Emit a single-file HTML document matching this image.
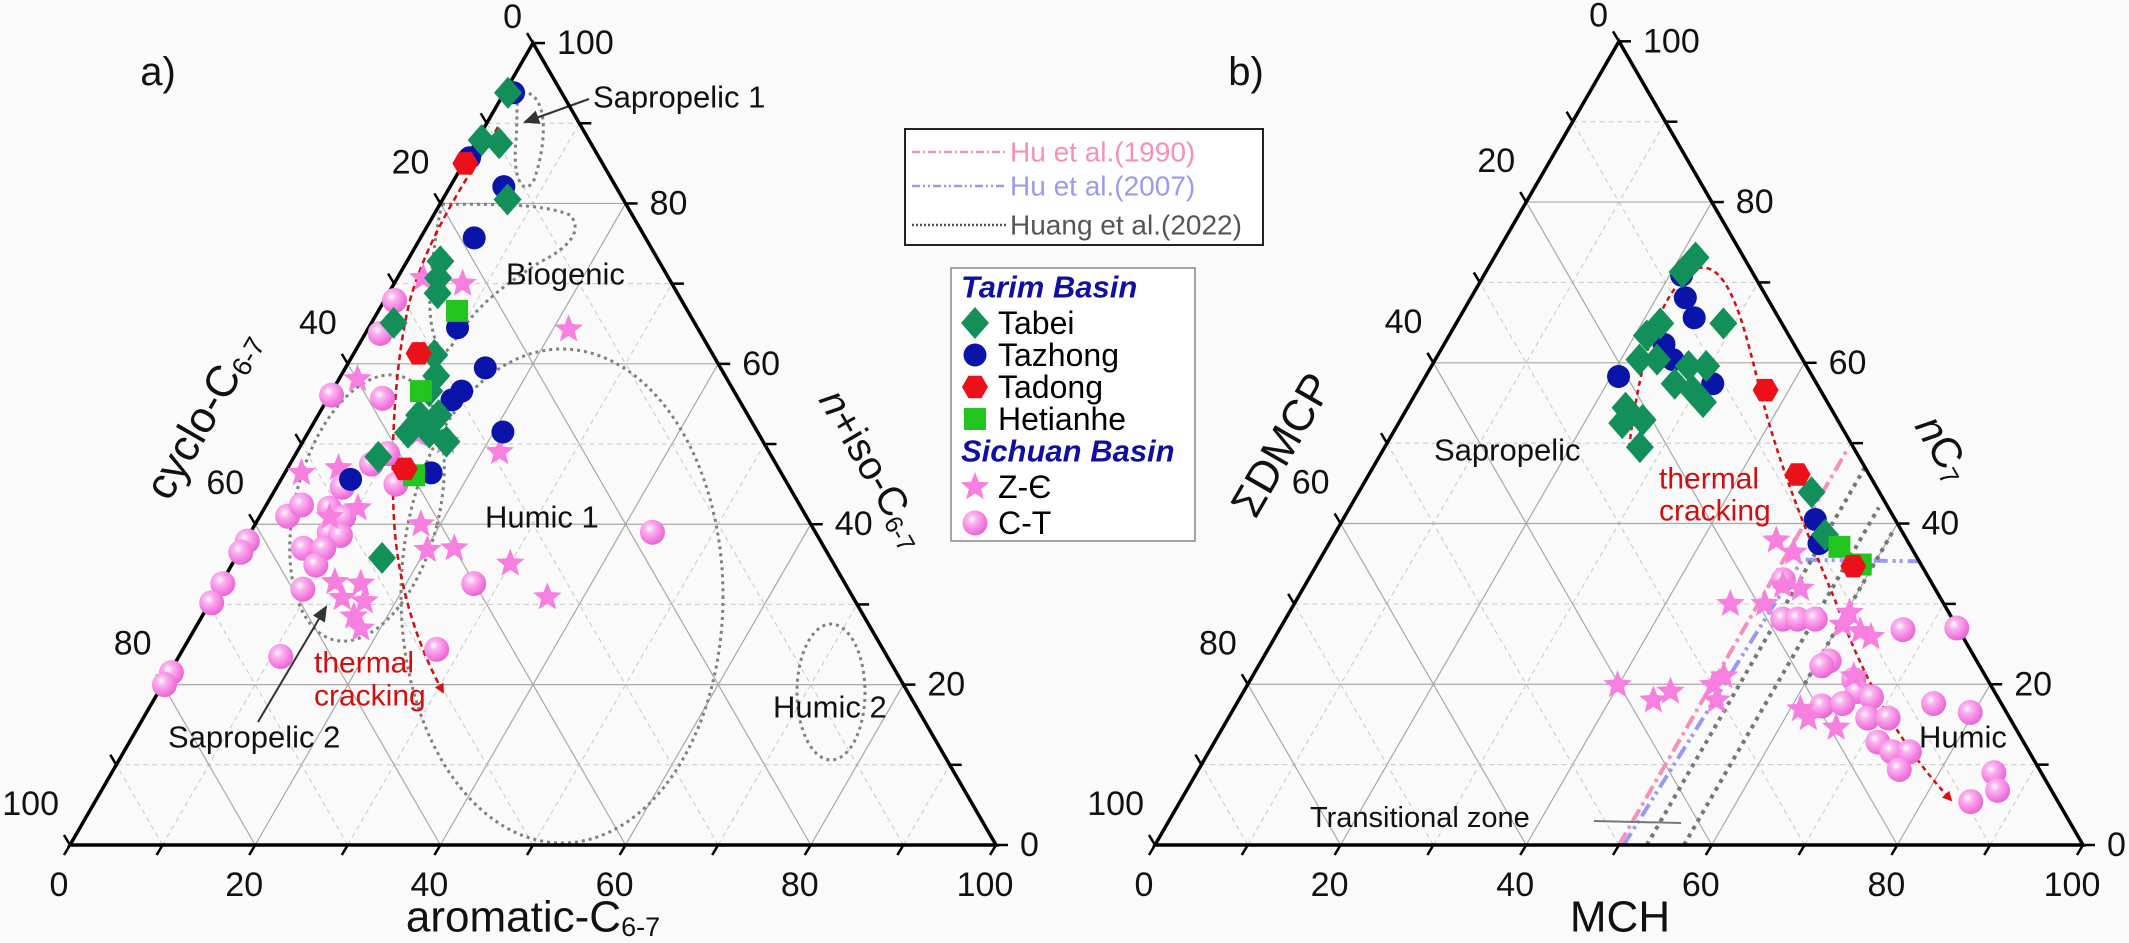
<!DOCTYPE html>
<html><head><meta charset="utf-8"><title>Ternary diagrams</title>
<style>
html,body{margin:0;padding:0;background:#fafafa;}
svg{display:block;font-family:"Liberation Sans",Arial,sans-serif;}
</style></head>
<body>
<svg id="chart" width="2129" height="943" viewBox="0 0 2129 943" xmlns="http://www.w3.org/2000/svg">
<defs>
<radialGradient id="sph" cx="0.38" cy="0.35" r="0.7">
<stop offset="0" stop-color="#ffffff"/><stop offset="0.25" stop-color="#fbb6f0"/><stop offset="0.7" stop-color="#f47de0"/><stop offset="1" stop-color="#e066cc"/>
</radialGradient>
<marker id="arrRed" markerWidth="10" markerHeight="10" refX="8" refY="5" orient="auto" markerUnits="userSpaceOnUse"><path d="M0,0 L10,5 L0,10 Z" fill="#e01010"/></marker>
<marker id="arrBlk" markerWidth="16" markerHeight="16" refX="14" refY="8" orient="auto" markerUnits="userSpaceOnUse"><path d="M0,1 L16,8 L0,15 Z" fill="#333"/></marker>
</defs>
<rect x="0" y="0" width="2129" height="943" fill="#fafafa"/>
<g id="gridA"></g>
<g id="gridB"></g>

<!-- panel a annotations -->
<g fill="none" stroke="#808080" stroke-width="3" stroke-dasharray="3,4">
<path d="M522,92 C548,92 548,140 534,180 C524,198 512,180 516,140 C518,110 515,95 522,92 Z"/>
<path d="M442,204 C480,205 540,202 570,215 C585,232 565,250 540,262 C505,285 475,305 452,345 C440,365 428,330 430,295 C432,260 436,230 442,204 Z"/>
<ellipse cx="367" cy="508" rx="72" ry="136" transform="rotate(14 367 508)"/>
<ellipse cx="562" cy="596" rx="161" ry="247"/>
<ellipse cx="831" cy="692" rx="34" ry="68"/>
</g>
<path d="M498,127 C470,175 430,230 410,300 C395,360 390,450 394,520 C398,590 420,650 443,692" fill="none" stroke="#d01010" stroke-width="2.5" stroke-dasharray="6,4" marker-end="url(#arrRed)"/>
<line x1="589" y1="99" x2="525" y2="122" stroke="#333" stroke-width="2" marker-end="url(#arrBlk)"/>
<line x1="258" y1="722" x2="326" y2="607" stroke="#333" stroke-width="2" marker-end="url(#arrBlk)"/>

<!-- panel b annotation lines -->
<g fill="none">
<path id="pinkLine" stroke="#f590b8" stroke-width="4" stroke-dasharray="14,5,3,5"/>
<path id="blueLine" stroke="#9a9af0" stroke-width="4" stroke-dasharray="14,5,3,4,3,5"/>
<path id="grayLine1" stroke="#777" stroke-width="4" stroke-dasharray="4,5"/>
<path id="grayLine2" stroke="#777" stroke-width="4" stroke-dasharray="4,5"/>
<path id="grayLine3" stroke="#777" stroke-width="4" stroke-dasharray="4,5"/>
</g>
<line x1="1594" y1="821" x2="1681" y2="823" stroke="#777" stroke-width="2"/>
<path d="M1629,448 C1640,360 1660,285 1699,268 C1730,262 1745,330 1760,390 C1780,470 1810,540 1835,600 C1860,670 1895,740 1951,800" fill="none" stroke="#d01010" stroke-width="2.5" stroke-dasharray="5,4" marker-end="url(#arrRed)"/>

<g id="axesA"></g>
<g id="axesB"></g>
<g id="pointsA"></g>
<g id="pointsB"></g>

<!-- text labels -->
<g font-size="32" fill="#111">
<text x="158" y="72" font-size="40" text-anchor="middle" dominant-baseline="central">a)</text>
<text x="1246" y="72" font-size="40" text-anchor="middle" dominant-baseline="central">b)</text>
<text x="593" y="97" dominant-baseline="central" font-size="31">Sapropelic 1</text>
<text x="506" y="274" dominant-baseline="central" font-size="31">Biogenic</text>
<text x="485" y="517" dominant-baseline="central" font-size="31">Humic 1</text>
<text x="773" y="707" dominant-baseline="central" font-size="31">Humic 2</text>
<text x="168" y="737" dominant-baseline="central" font-size="31">Sapropelic 2</text>
<text x="314" y="663" dominant-baseline="central" font-size="30" fill="#d01010">thermal</text>
<text x="314" y="696" dominant-baseline="central" font-size="30" fill="#d01010">cracking</text>
<text x="1434" y="450" dominant-baseline="central" font-size="31">Sapropelic</text>
<text x="1659" y="479" dominant-baseline="central" font-size="30" fill="#d01010">thermal</text>
<text x="1659" y="511" dominant-baseline="central" font-size="30" fill="#d01010">cracking</text>
<text x="1919" y="737" dominant-baseline="central" font-size="31">Humic</text>
<text x="1310" y="818" dominant-baseline="central" font-size="29">Transitional zone</text>

<text x="533" y="917" text-anchor="middle" dominant-baseline="central" font-size="44">aromatic-C<tspan font-size="27" dy="10">6-7</tspan></text>
<text transform="translate(203,415) rotate(-60)" text-anchor="middle" dominant-baseline="central" font-size="44">cyclo-C<tspan font-size="27" dy="10">6-7</tspan></text>
<text transform="translate(873,469) rotate(60)" text-anchor="middle" dominant-baseline="central" font-size="40"><tspan font-style="italic">n</tspan>+iso-C<tspan font-size="25" dy="10">6-7</tspan></text>
<text x="1620" y="917" text-anchor="middle" dominant-baseline="central" font-size="44">MCH</text>
<text transform="translate(1282,445) rotate(-60)" text-anchor="middle" dominant-baseline="central" font-size="44">ΣDMCP</text>
<text transform="translate(1944,448) rotate(60)" text-anchor="middle" dominant-baseline="central" font-size="42"><tspan font-style="italic">n</tspan>C<tspan font-size="26" dy="10">7</tspan></text>
</g>

<!-- legend 1 -->
<g>
<rect x="905" y="129" width="358" height="116" fill="#fff" stroke="#222" stroke-width="2"/>
<line x1="912" y1="152" x2="1007" y2="152" stroke="#f590b8" stroke-width="2.5" stroke-dasharray="8,3,2,3"/>
<text x="1010" y="152" dominant-baseline="central" font-size="28" fill="#f590b8">Hu et al.(1990)</text>
<line x1="912" y1="186" x2="1007" y2="186" stroke="#9a9af0" stroke-width="2.5" stroke-dasharray="8,3,2,3,2,3"/>
<text x="1010" y="186" dominant-baseline="central" font-size="28" fill="#9a9af0">Hu et al.(2007)</text>
<line x1="912" y1="225" x2="1007" y2="225" stroke="#555" stroke-width="2.5" stroke-dasharray="2,2"/>
<text x="1010" y="225" dominant-baseline="central" font-size="28" fill="#555">Huang et al.(2022)</text>
</g>
<!-- legend 2 -->
<g id="legend2">
<rect x="951" y="268" width="244" height="273" fill="#fff" stroke="#888" stroke-width="1.5"/>
<text x="961" y="287" dominant-baseline="central" font-size="31" font-weight="bold" font-style="italic" fill="#1010a0">Tarim Basin</text>
<text x="998" y="323" dominant-baseline="central" font-size="32">Tabei</text>
<text x="998" y="355" dominant-baseline="central" font-size="32">Tazhong</text>
<text x="998" y="387" dominant-baseline="central" font-size="32">Tadong</text>
<text x="998" y="419" dominant-baseline="central" font-size="32">Hetianhe</text>
<text x="961" y="451" dominant-baseline="central" font-size="31" font-weight="bold" font-style="italic" fill="#1010a0">Sichuan Basin</text>
<text x="998" y="487" dominant-baseline="central" font-size="32">Z-Є</text>
<text x="998" y="523" dominant-baseline="central" font-size="32">C-T</text>
</g>
</svg>
<script>
// ---- Panel a data: [aromatic, n+iso] (cyclo = 100 - sum) ----
const aTabei = [[0.4,93.8],[0.5,87.9],[2.6,87.5],[7.0,80.5],[3.6,72.8],[4.4,70.7],[5.3,68.8],[2.4,65.1],[8.8,61.1],[10.3,58.5],[10.5,56.6],[10.9,53.6],[13.0,53.6],[10.8,51.4],[13.1,51.4],[15.5,50.3],[9.1,48.4],[15.8,35.8]];
const aTazhong = [[1.0,93.8],[0.3,85.7],[5.8,82.1],[5.8,75.7],[9.6,64.5],[15.1,59.5],[14.0,56.6],[13.5,55.5],[21.0,51.5],[7.5,45.6],[15.8,46.4]];
const aTadong = [[0.2,85.0],[7.0,61.3],[12.7,46.9]];
const aHetianhe = [[8.5,66.6],[9.6,56.6],[14.1,46.1]];
const aZE = [[2.8,70.7],[7.4,70.0],[21.7,64.3],[2.0,58.1],[11.9,51.2],[15.4,50.3],[21.9,49.0],[1.8,46.4],[5.5,47.0],[10.1,42.0],[7.6,40.9],[17.9,40.0],[20.2,36.8],[23.0,37.0],[30.0,35.1],[36.1,30.9],[12.2,32.8],[15.1,32.6],[14.0,30.8],[16.6,30.4],[16.4,28.5],[17.9,27.0]];
const aCT = [[1.1,67.9],[1.6,63.8],[0.2,56.1],[5.9,55.7],[9.9,48.8],[8.8,47.5],[12.7,45.0],[7.1,44.6],[3.0,41.0],[3.8,42.4],[7.0,42.0],[9.1,40.9],[8.5,39.0],[9.9,38.6],[0.2,37.9],[0.2,36.5],[6.7,37.0],[8.9,37.0],[9.1,34.9],[9.2,31.9],[0.2,32.6],[0.2,30.2],[27.3,32.6],[43.4,39.0],[11.0,23.5],[27.4,24.4],[0.2,21.5],[0.2,20.0]];
// ---- Panel b data: [MCH, nC7] (ΣDMCP = 100 - sum) ----
const bTabei = [[21.7,73.1],[21.2,71.3],[28.8,64.9],[22.0,64.9],[21.3,63.4],[23.9,60.4],[22.0,60.4],[27.7,59.6],[29.6,59.6],[27.3,57.4],[29.6,56.6],[31.5,55.1],[23.5,54.4],[26.1,52.9],[24.1,52.5],[27.5,49.5],[48.8,43.9],[52.9,38.6]];
const bTazhong = [[21.3,70.9],[23.1,68.1],[25.3,65.6],[23.7,62.3],[25.6,60.4],[20.8,58.3],[31.4,57.4],[50.9,40.5],[52.8,37.5]];
const bTadong = [[37.5,56.6],[46.2,46.1],[57.9,34.7]];
const bHetianhe = [[55.2,37.1],[58.6,34.9]];
const bZE = [[48.0,37.9],[50.6,36.4],[53.6,31.9],[51.5,32.3],[47.0,30.0],[50.7,30.0],[60.4,28.9],[62.7,26.6],[64.2,25.9],[60.4,27.4],[39.9,19.9],[44.7,18.0],[46.0,19.1],[50.2,19.9],[50.8,21.0],[51.5,18.0],[61.1,16.9],[62.5,15.8],[66.1,14.6],[64.8,21.0]];
const bCT = [[51.2,33.0],[53.6,28.1],[55.2,28.1],[57.1,28.1],[67.2,26.8],[72.9,27.0],[61.2,22.9],[60.7,22.3],[65.0,20.6],[66.1,19.1],[68.0,18.4],[63.2,17.3],[65.3,17.6],[68.9,15.8],[71.1,15.8],[75.1,17.6],[79.6,16.5],[71.5,12.8],[73.6,11.6],[75.5,11.6],[75.5,9.4],[85.9,9.0],[87.4,6.8],[85.2,5.4]];
// Boundary lines in panel b: [MCH, nC7] endpoints
const huLine1990 = [[50,0],[50,49]];
const huLine2007 = [[50.5,0],[52,35.5],[64.8,35.3]];
const huangLine1 = [[53,0],[53,47]];
const huangLine2 = [[57,0],[57,42]];
const huangLine3 = [[60,20],[60,39]];
const tickValues = [0,20,40,60,80,100];

const NS = "http://www.w3.org/2000/svg";
const panels = {
  a:{Lx:70,Ly:845,S:926},
  b:{Lx:1155,Ly:845,S:928}
};
function px(p,a,n){return panels[p].Lx + panels[p].S*(a+n/2)/100;}
function py(p,a,n){return panels[p].Ly - panels[p].S*0.8660254*n/100;}
function mk(tag,attrs,parent){const e=document.createElementNS(NS,tag);for(const k in attrs)e.setAttribute(k,attrs[k]);parent.appendChild(e);return e;}

function drawGrid(p,g){
  for(let v=10;v<100;v+=10){
    const major=v%20===0;
    const st={stroke:major?"#a8a8a8":"#c8c8c8","stroke-width":major?1.2:1,"stroke-dasharray":major?"none":"5,4",fill:"none"};
    // constant top component (horizontal)
    let l=mk("line",Object.assign({x1:px(p,0,v),y1:py(p,0,v),x2:px(p,100-v,v),y2:py(p,100-v,v)},st),g);
    
    
    // constant right component
    l=mk("line",Object.assign({x1:px(p,v,0),y1:py(p,v,0),x2:px(p,v,100-v),y2:py(p,v,100-v)},st),g);
    
    
    // constant left component: a+n = 100-v
    l=mk("line",Object.assign({x1:px(p,100-v,0),y1:py(p,100-v,0),x2:px(p,0,100-v),y2:py(p,0,100-v)},st),g);
    
    
  }
}
function drawAxes(p,g,name){
  const tri=mk("path",{d:`M${px(p,0,0)},${py(p,0,0)} L${px(p,100,0)},${py(p,100,0)} L${px(p,0,100)},${py(p,0,100)} Z`,fill:"none",stroke:"#000","stroke-width":3.5,"stroke-linejoin":"miter"},g);
  
  
  for(let v=0;v<=100;v+=10){
    // bottom ticks (down-left)
    let x=px(p,v,0),y=py(p,v,0);
    let t=mk("line",{x1:x,y1:y,x2:x-6,y2:y+10,stroke:"#000","stroke-width":2.5},g);
    
    
    // right ticks (horizontal right) on right edge: top comp = v
    x=px(p,100-v,v);y=py(p,100-v,v);
    t=mk("line",{x1:x,y1:y,x2:x+12,y2:y,stroke:"#000","stroke-width":2.5},g);
    
    
    // left ticks (up-left) on left edge: left comp = v -> n = 100-v
    x=px(p,0,100-v);y=py(p,0,100-v);
    t=mk("line",{x1:x,y1:y,x2:x-6,y2:y-10,stroke:"#000","stroke-width":2.5},g);
    
    
  }
  tickValues.forEach(v=>{
    let x=px(p,v,0),y=py(p,v,0);
    let tx=mk("text",{x:x-11,y:y+40,"text-anchor":"middle","dominant-baseline":"central","font-size":34,fill:"#111"},g);
    tx.textContent=v;
    
    
    x=px(p,100-v,v);y=py(p,100-v,v);
    tx=mk("text",{x:x+24,y:y,"text-anchor":"start","dominant-baseline":"central","font-size":34,fill:"#111"},g);
    tx.textContent=v;
    
    
    x=px(p,0,100-v);y=py(p,0,100-v);
    tx=mk("text",{x:x-11,y:v===0?y-26:y-41,"text-anchor":"end","dominant-baseline":"central","font-size":34,fill:"#111"},g);
    tx.textContent=v;
    
    
  });
}
function diamond(g,x,y){const e=mk("path",{d:`M${x},${y-16} L${x+14},${y} L${x},${y+16} L${x-14},${y} Z`,fill:"#13905a"},g);return e;}
function circ(g,x,y){return mk("circle",{cx:x,cy:y,r:11.5,fill:"#0a14a8"},g);}
function hexa(g,x,y){let d="";for(let i=0;i<6;i++){const a=Math.PI/3*i;d+=(i?"L":"M")+(x+13*Math.cos(a))+","+(y+13*Math.sin(a));}return mk("path",{d:d+"Z",fill:"#ec1018"},g);}
function square(g,x,y){return mk("rect",{x:x-11,y:y-11,width:22,height:22,fill:"#22c41e"},g);}
function star(g,x,y){let d="";for(let i=0;i<10;i++){const r=i%2?6.5:15;const a=-Math.PI/2+Math.PI/5*i;d+=(i?"L":"M")+(x+r*Math.cos(a))+","+(y+r*Math.sin(a));}return mk("path",{d:d+"Z",fill:"#f77fe0"},g);}
function sphere(g,x,y){return mk("circle",{cx:x,cy:y,r:12.5,fill:"url(#sph)"},g);}

function plot(p,g,arr,fn,name){
  arr.forEach(v=>{
    const e=fn(g,px(p,v[0],v[1]),py(p,v[0],v[1]));
    
    
  });
}
function linePath(p,el,arr){
  el.setAttribute("d",arr.map((v,i)=>(i?"L":"M")+px(p,v[0],v[1])+","+py(p,v[0],v[1])).join(" "));
}

drawGrid("a",document.getElementById("gridA"));
drawGrid("b",document.getElementById("gridB"));
drawAxes("a",document.getElementById("axesA"),"panel-a");
drawAxes("b",document.getElementById("axesB"),"panel-b");
linePath("b",document.getElementById("pinkLine"),huLine1990);
linePath("b",document.getElementById("blueLine"),huLine2007);
linePath("b",document.getElementById("grayLine1"),huangLine1);
linePath("b",document.getElementById("grayLine2"),huangLine2);
linePath("b",document.getElementById("grayLine3"),huangLine3);

const gA=document.getElementById("pointsA"), gB=document.getElementById("pointsB");
plot("a",gA,aCT,sphere,"ct-point");
plot("a",gA,aZE,star,"z-e-point");
plot("a",gA,aTazhong,circ,"tazhong-point");
plot("a",gA,aTabei,diamond,"tabei-point");
plot("a",gA,aHetianhe,square,"hetianhe-point");
plot("a",gA,aTadong,hexa,"tadong-point");
plot("b",gB,bCT,sphere,"ct-point");
plot("b",gB,bZE,star,"z-e-point");
plot("b",gB,bTazhong,circ,"tazhong-point");
plot("b",gB,bTabei,diamond,"tabei-point");
plot("b",gB,bHetianhe,square,"hetianhe-point");
plot("b",gB,bTadong,hexa,"tadong-point");

// legend markers
const lg=document.getElementById("legend2");
let m;
m=diamond(lg,975,323);


m=circ(lg,975,355);


m=hexa(lg,975,387);


m=square(lg,975,419);


m=star(lg,975,487);


m=sphere(lg,975,523);


</script>
</body></html>
